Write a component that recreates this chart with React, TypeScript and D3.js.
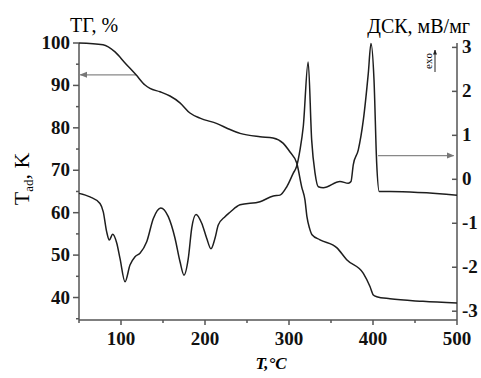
import React, { useEffect, useRef } from 'react';
import * as d3 from 'd3';

// TG curve, %
const tgTemp = [50, 78.6, 92.9, 104.8, 117.9, 128.6, 134.5, 146.4, 158.3, 170.2, 182.1, 194, 214.3, 229.8, 241.7, 265.5, 281, 292.9, 301.2, 309.2, 315.1, 319, 321.4, 324.5, 327.4, 336.9, 357.1, 368.7, 388.5, 396.4, 400.4, 404.4, 420.2, 459.5, 500];
const tgValue = [100, 99.6, 97.9, 95.3, 92.5, 90.1, 89.3, 88.5, 87.5, 85.9, 83.5, 82.3, 81.0, 79.6, 78.7, 77.9, 77.6, 76.4, 74.3, 71.7, 66.1, 63, 59, 56.3, 54.8, 53.6, 51.7, 48.9, 45.7, 42.6, 40.6, 40.2, 39.7, 39.1, 38.7];

// DSC curve, mV/mg
const dscTemp = [50, 63.1, 75, 78.9, 82.9, 86.1, 90.1, 94.9, 98.8, 104.8, 110.7, 116.7, 122.6, 130.6, 138.5, 147.3, 156.3, 164.3, 170.2, 175, 180.1, 184.2, 189.3, 196.1, 202, 207.1, 211.9, 215.8, 223.8, 229.8, 241.7, 265.5, 281.3, 289.3, 297.3, 305.1, 309, 313.1, 317, 322.8, 327, 331, 334.9, 340.8, 360.7, 370.6, 373.8, 376.5, 382.5, 388.5, 394.4, 397.6, 401.2, 404.4, 407.5, 420.2, 500];
const dscValue = [-0.32, -0.4, -0.55, -0.74, -1.19, -1.38, -1.25, -1.45, -1.8, -2.33, -1.95, -1.76, -1.68, -1.42, -0.89, -0.65, -0.85, -1.34, -1.87, -2.18, -1.8, -1.11, -0.8, -1.0, -1.34, -1.58, -1.34, -1.04, -0.85, -0.75, -0.58, -0.51, -0.38, -0.36, -0.17, 0.14, 0.29, 0.67, 1.2, 2.67, 0.89, 0.14, -0.17, -0.19, -0.05, -0.09, -0.05, 0.33, 0.67, 1.35, 2.41, 3.09, 2.26, 0.36, -0.28, -0.28, -0.36];

const xTicks = [100, 200, 300, 400, 500];
const xMinor = [50, 150, 250, 350, 450];
const tgTicks = [40, 50, 60, 70, 80, 90, 100];
const tgMinor = [35, 45, 55, 65, 75, 85, 95];
const dscTicks = [-3, -2, -1, 0, 1, 2, 3];

// annotation arrows: [from temp, to temp, value]
const tgArrow = [117.9, 51.5, 92.5];
const dscArrow = [406, 496, 0.54];

const App = () => {
    const chartRef = useRef<SVGSVGElement>(null);

    useEffect(() => {
        document.body.style.margin = '0';
        drawChart();
    }, []);

    const drawChart = () => {
        const width = 481;
        const height = 378;
        const left = 79, right = 457, top = 43, bottom = 320;
        const font = '"Liberation Serif", "Times New Roman", serif';
        const axisColor = '#555';
        const lineColor = '#1e1e1e';

        const svg = d3.select(chartRef.current)
            .attr('width', width)
            .attr('height', height)
            .style('display', 'block');
        svg.selectAll('*').remove();

        const x = d3.scaleLinear().domain([50, 500]).range([left, right]);
        const yTg = d3.scaleLinear().domain([34.7, 100]).range([bottom, top]);
        const yDsc = d3.scaleLinear().domain([-3.2, 3.1]).range([bottom, top]);

        const defs = svg.append('defs');
        const marker = (id, color, w) => defs.append('marker')
            .attr('id', id)
            .attr('viewBox', '0 0 10 10')
            .attr('refX', 9).attr('refY', 5)
            .attr('markerWidth', w).attr('markerHeight', w)
            .attr('orient', 'auto-start-reverse')
            .append('path')
            .attr('d', 'M0,1 L10,5 L0,9 z')
            .attr('fill', color);
        marker('arrGray', '#777', 6);
        marker('arrDark', '#222', 5);

        // axes
        const axes = svg.append('g').attr('stroke', axisColor).attr('stroke-width', 1.5);
        axes.append('line').attr('x1', left).attr('x2', left).attr('y1', top).attr('y2', bottom);
        axes.append('line').attr('x1', right).attr('x2', right).attr('y1', top).attr('y2', bottom);
        axes.append('line').attr('x1', left).attr('x2', right).attr('y1', bottom).attr('y2', bottom);

        axes.selectAll('.xt').data(xTicks).enter().append('line')
            .attr('x1', d => x(d)).attr('x2', d => x(d)).attr('y1', bottom).attr('y2', bottom + 5);
        axes.selectAll('.xm').data(xMinor).enter().append('line')
            .attr('x1', d => x(d)).attr('x2', d => x(d)).attr('y1', bottom).attr('y2', bottom + 3);
        axes.selectAll('.lt').data(tgTicks).enter().append('line')
            .attr('x1', left - 6).attr('x2', left).attr('y1', d => yTg(d)).attr('y2', d => yTg(d));
        axes.selectAll('.lm').data(tgMinor).enter().append('line')
            .attr('x1', left - 3).attr('x2', left).attr('y1', d => yTg(d)).attr('y2', d => yTg(d));
        axes.selectAll('.rt').data(dscTicks).enter().append('line')
            .attr('x1', right - 5).attr('x2', right).attr('y1', d => yDsc(d)).attr('y2', d => yDsc(d));

        const labels = svg.append('g')
            .attr('font-family', font)
            .attr('font-weight', 'bold')
            .attr('font-size', 19)
            .attr('fill', '#111');
        labels.selectAll('.xl').data(xTicks).enter().append('text')
            .attr('x', d => x(d)).attr('y', 345)
            .attr('text-anchor', 'middle')
            .text(d => d);
        labels.selectAll('.ll').data(tgTicks).enter().append('text')
            .attr('x', left - 9).attr('y', d => yTg(d) + 6)
            .attr('text-anchor', 'end')
            .text(d => d);
        labels.selectAll('.rl').data(dscTicks).enter().append('text')
            .attr('x', right + 5).attr('y', d => yDsc(d) + 6)
            .text(d => d);

        // titles
        svg.append('text')
            .attr('x', 70).attr('y', 32)
            .attr('font-family', font).attr('font-size', 20)
            .text('ТГ, %');
        svg.append('text')
            .attr('x', 470).attr('y', 33)
            .attr('text-anchor', 'end')
            .attr('font-family', font).attr('font-size', 20)
            .text('ДСК, мВ/мг');
        const yTitle = svg.append('text')
            .attr('transform', 'translate(29,179) rotate(-90)')
            .attr('text-anchor', 'middle')
            .attr('font-family', font).attr('font-size', 22);
        yTitle.append('tspan').text('T');
        yTitle.append('tspan').attr('font-size', 13).attr('dy', 4).text('ad');
        yTitle.append('tspan').attr('dy', -4).text(', K');
        svg.append('text')
            .attr('x', 271).attr('y', 369)
            .attr('text-anchor', 'middle')
            .attr('font-family', font).attr('font-size', 17)
            .attr('font-weight', 'bold').attr('font-style', 'italic')
            .text('T,°C');

        // exo marker
        svg.append('text')
            .attr('transform', 'translate(432,61) rotate(-90)')
            .attr('text-anchor', 'middle')
            .attr('font-family', font).attr('font-size', 11)
            .text('exo');
        svg.append('line')
            .attr('x1', 435).attr('x2', 435).attr('y1', 72).attr('y2', 50)
            .attr('stroke', '#222').attr('stroke-width', 1)
            .attr('marker-end', 'url(#arrDark)');

        // annotation arrows
        svg.append('line')
            .attr('x1', x(tgArrow[0])).attr('x2', x(tgArrow[1]))
            .attr('y1', yTg(tgArrow[2])).attr('y2', yTg(tgArrow[2]))
            .attr('stroke', '#888').attr('stroke-width', 1.3)
            .attr('marker-end', 'url(#arrGray)');
        svg.append('line')
            .attr('x1', x(dscArrow[0])).attr('x2', x(dscArrow[1]))
            .attr('y1', yDsc(dscArrow[2])).attr('y2', yDsc(dscArrow[2]))
            .attr('stroke', '#888').attr('stroke-width', 1.3)
            .attr('marker-end', 'url(#arrGray)');

        // curves
        const tgLine = d3.line<number>()
            .x((d, i) => x(tgTemp[i]))
            .y(d => yTg(d))
            .curve(d3.curveMonotoneX);
        const dscLine = d3.line<number>()
            .x((d, i) => x(dscTemp[i]))
            .y(d => yDsc(d))
            .curve(d3.curveMonotoneX);

        svg.append('path')
            .attr('d', tgLine(tgValue))
            .attr('fill', 'none')
            .attr('stroke', lineColor)
            .attr('stroke-width', 1.5);
        svg.append('path')
            .attr('d', dscLine(dscValue))
            .attr('fill', 'none')
            .attr('stroke', lineColor)
            .attr('stroke-width', 1.5);
    };

    return (
        <svg ref={chartRef}></svg>
    );
};

export default App;
